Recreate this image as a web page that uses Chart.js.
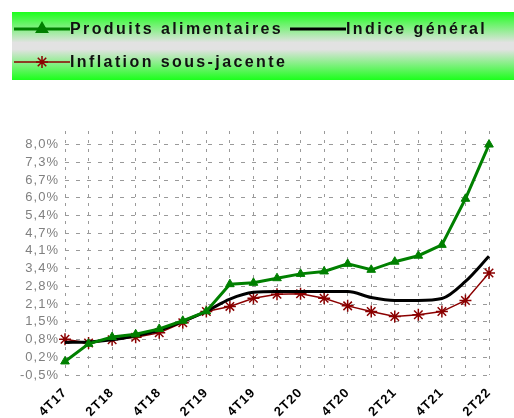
<!DOCTYPE html>
<html>
<head>
<meta charset="utf-8">
<script src="https://cdn.jsdelivr.net/npm/chart.js@4/dist/chart.umd.min.js"></script>
<style>
  html, body { margin: 0; padding: 0; background: #fff; overflow: hidden; }
  #wrap { width: 514px; height: 418px; position: relative; }
</style>
</head>
<body>
<div id="wrap"><canvas id="chart"></canvas></div>
<script>
// Quarters (every other one is labelled on the axis).
var quarters = ['4T17', '1T18', '2T18', '3T18', '4T18', '1T19', '2T19', '3T19', '4T19',
    '1T20', '2T20', '3T20', '4T20', '1T21', '2T21', '3T21', '4T21', '1T22', '2T22'];

var produitsAlimentaires = [0.0, 0.65, 0.9, 1.0, 1.2, 1.5, 1.85, 2.85, 2.9, 3.07, 3.23, 3.32,
    3.6, 3.38, 3.68, 3.9, 4.3, 6.0, 8.0];
var indiceGeneral = [0.7, 0.72, 0.8, 0.95, 1.15, 1.48, 1.85, 2.3, 2.55, 2.58, 2.58, 2.58,
    2.58, 2.36, 2.25, 2.25, 2.32, 2.95, 3.88];
var inflationSousJacente = [0.82, 0.68, 0.8, 0.89, 1.06, 1.43, 1.84, 2.03, 2.33, 2.48, 2.5, 2.33,
    2.05, 1.84, 1.66, 1.72, 1.84, 2.25, 3.26];

// Y ticks as Excel placed them (13 equal steps between -0.5% and 8.0%).
var yTicks = [-0.5, 0.154, 0.808, 1.462, 2.115, 2.769, 3.423, 4.077, 4.731, 5.385,
    6.038, 6.692, 7.346, 8.0];

(function () {
    'use strict';

    function drawMarker(ctx, style, x, y, r, color) {
        ctx.fillStyle = color;
        ctx.strokeStyle = color;
        if (Chart.helpers && Chart.helpers.drawPoint) {
            Chart.helpers.drawPoint(ctx, { pointStyle: style, radius: r, rotation: 0, borderWidth: 1.5 }, x, y);
        }
    }

    // Legend drawn by hand so the layout matches the Excel box.
    var legendBox = {
        id: 'legendBox',
        beforeLayout: function (chart) {
            chart.ctx.letterSpacing = '1px';
        },
        afterDraw: function (chart) {
            var ctx = chart.ctx;
            var ds = chart.data.datasets;
            ctx.save();
            var g = ctx.createLinearGradient(0, 12, 0, 80);
            g.addColorStop(0, '#1cff1c');
            g.addColorStop(0.45, '#e2e2e2');
            g.addColorStop(0.55, '#e2e2e2');
            g.addColorStop(1, '#1cff1c');
            ctx.fillStyle = g;
            ctx.fillRect(12, 12, 510, 68);

            var slots = [[14, 29], [290, 29], [14, 62]];
            ctx.font = 'bold 16px "Liberation Sans", Arial, sans-serif';
            ctx.letterSpacing = '2.4px';
            ctx.textBaseline = 'middle';
            for (var i = 0; i < ds.length; i++) {
                var x = slots[i][0], y = slots[i][1];
                ctx.beginPath();
                ctx.lineWidth = ds[i].borderWidth;
                ctx.strokeStyle = ds[i].borderColor;
                ctx.moveTo(x, y);
                ctx.lineTo(x + 56, y);
                ctx.stroke();
                if (ds[i].pointRadius > 0) {
                    drawMarker(ctx, ds[i].pointStyle, x + 28, y, ds[i].pointRadius, ds[i].borderColor);
                }
                ctx.fillStyle = '#111';
                ctx.fillText(ds[i].label, x + 56, y + 1);
            }
            ctx.restore();
        }
    };

    var gridDash = [3, 6];

    new Chart(document.getElementById('chart'), {
        type: 'line',
        data: {
            labels: quarters,
            datasets: [{
                label: 'Produits alimentaires',
                data: produitsAlimentaires,
                borderColor: '#008000',
                backgroundColor: '#008000',
                borderWidth: 3,
                pointStyle: 'triangle',
                pointRadius: 5,
                pointBorderWidth: 1,
                tension: 0
            }, {
                label: 'Indice général',
                data: indiceGeneral,
                borderColor: '#000000',
                borderWidth: 3,
                pointRadius: 0,
                cubicInterpolationMode: 'monotone'
            }, {
                label: 'Inflation sous-jacente',
                data: inflationSousJacente,
                borderColor: '#8b0000',
                backgroundColor: '#8b0000',
                borderWidth: 1.5,
                pointStyle: 'star',
                pointRadius: 6,
                pointBorderWidth: 1.5,
                tension: 0
            }]
        },
        options: {
            responsive: true,
            maintainAspectRatio: false,
            animation: false,
            layout: { padding: { top: 131, right: 25, left: 0, bottom: 0 } },
            plugins: {
                legend: { display: false },
                tooltip: { enabled: false }
            },
            scales: {
                x: {
                    offset: false,
                    grid: { color: '#9a9a9a', lineWidth: 1, drawTicks: false },
                    border: { display: false, dash: gridDash },
                    ticks: {
                        autoSkip: false,
                        minRotation: 45,
                        maxRotation: 45,
                        padding: 10,
                        color: '#000',
                        font: { family: '"Liberation Sans", Arial, sans-serif', size: 13, weight: 'bold' },
                        callback: function (v, i) {
                            return i % 2 === 0 ? quarters[i] : '';
                        }
                    },
                    afterFit: function (scale) { scale.height = 43; }
                },
                y: {
                    min: -0.5,
                    max: 8.5,
                    grid: { color: '#9a9a9a', lineWidth: 1, drawTicks: false },
                    border: { display: false, dash: [4, 7] },
                    afterBuildTicks: function (scale) {
                        scale.ticks = yTicks.map(function (v) { return { value: v }; });
                    },
                    ticks: {
                        autoSkip: false,
                        padding: 6,
                        color: '#808080',
                        font: { family: '"Liberation Sans", Arial, sans-serif', size: 13 },
                        callback: function (v) {
                            return v.toFixed(1).replace('.', ',') + '%';
                        }
                    },
                    afterFit: function (scale) { scale.width = 65; }
                }
            }
        },
        plugins: [legendBox]
    });
})();
</script>
</body>
</html>
